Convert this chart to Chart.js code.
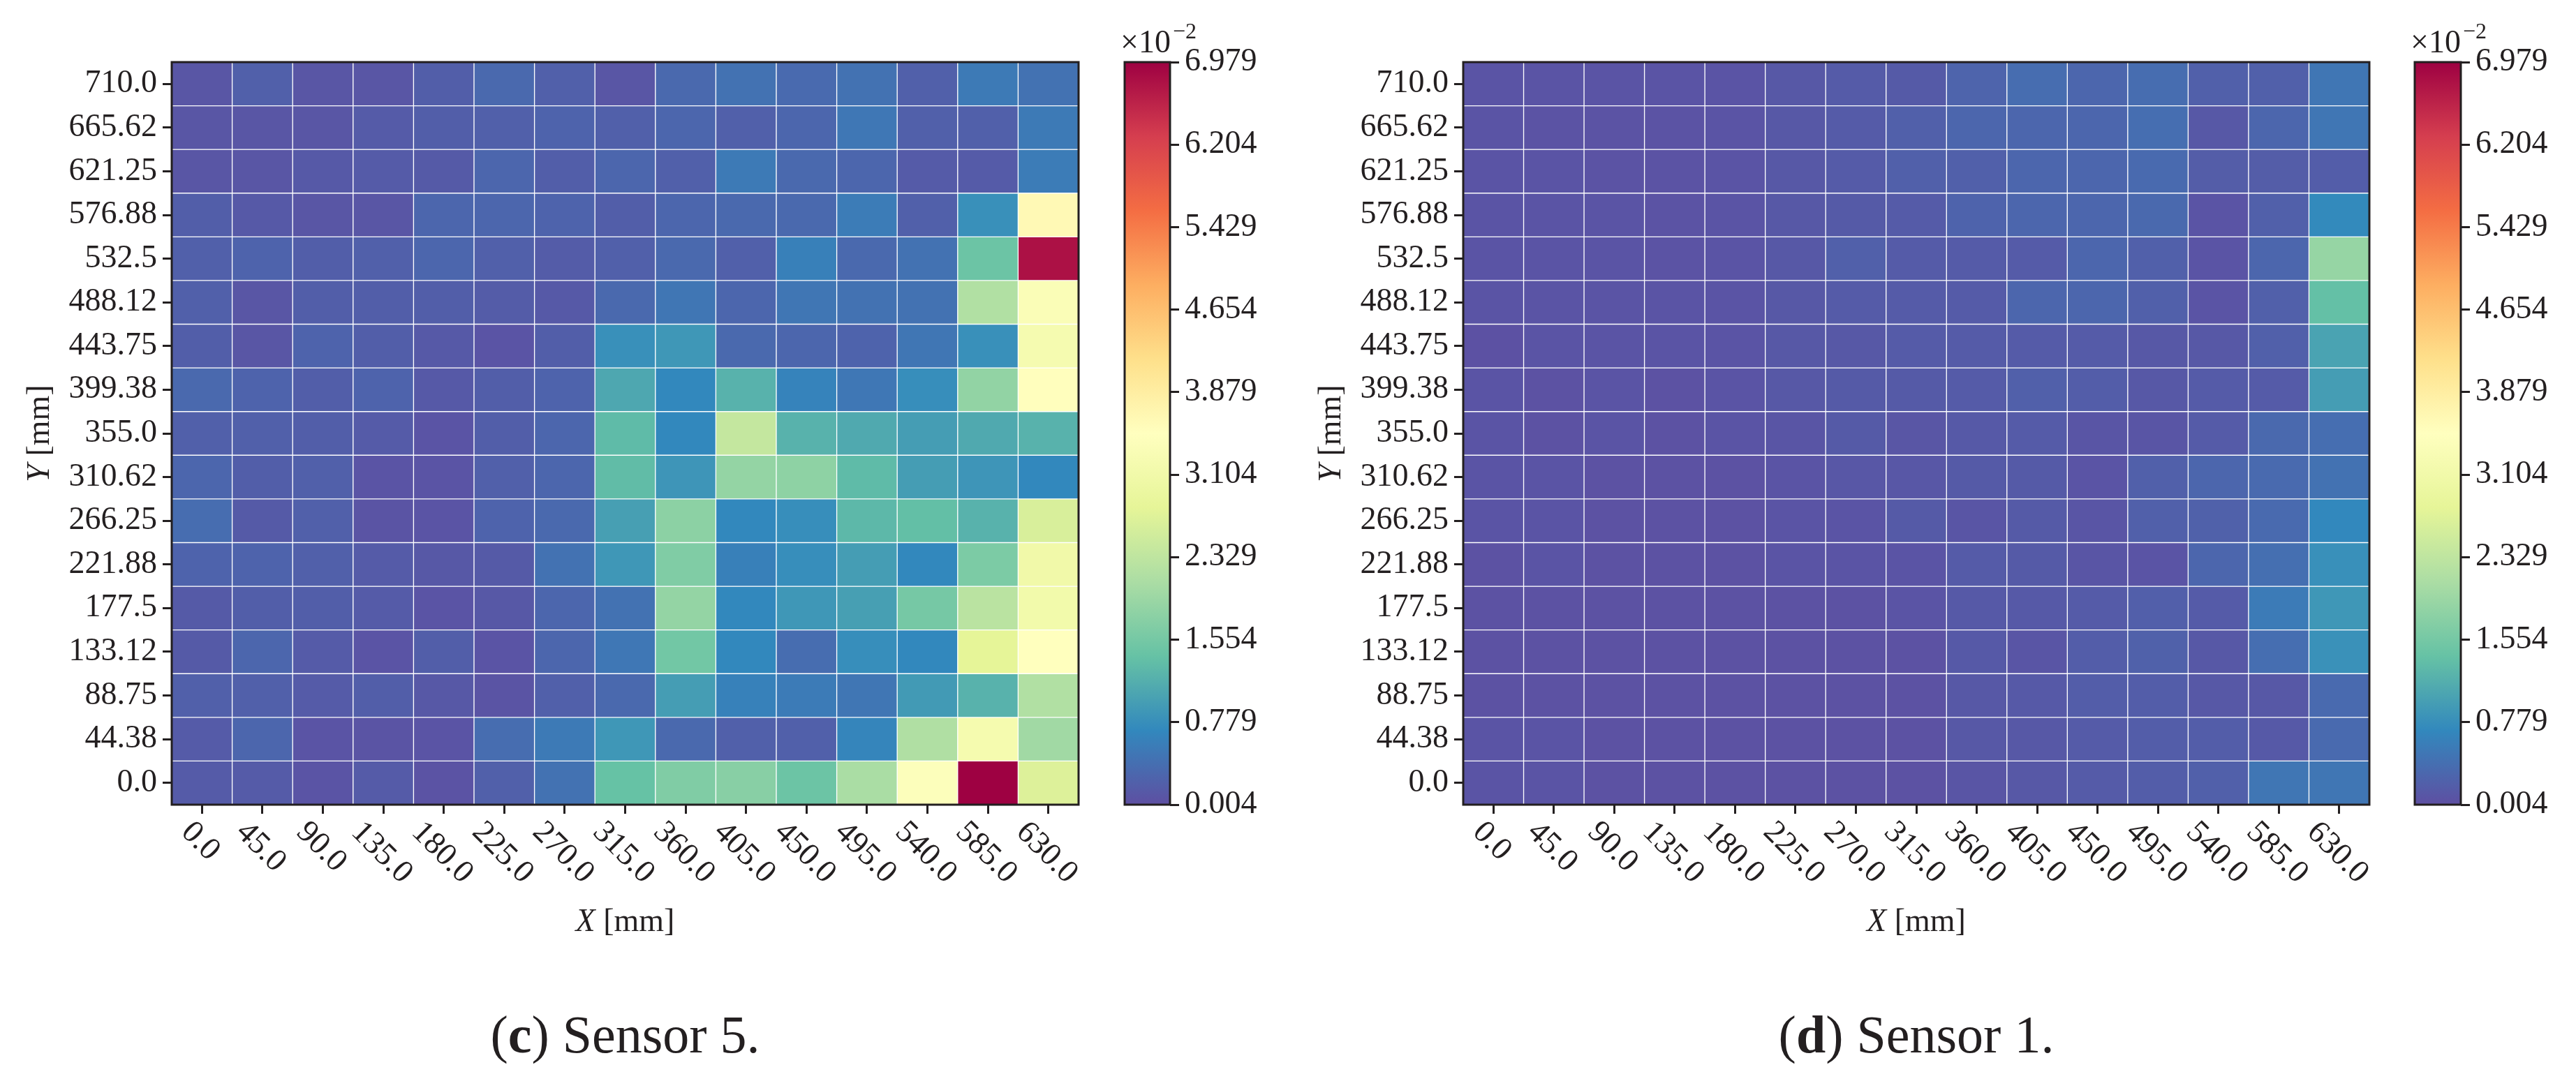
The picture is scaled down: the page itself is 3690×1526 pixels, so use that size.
<!DOCTYPE html>
<html>
<head>
<meta charset="utf-8">
<script src="https://cdn.jsdelivr.net/npm/chart.js@4.4.1/dist/chart.umd.min.js"></script>
<style>
  html, body { margin: 0; padding: 0; background: #ffffff; }
  body { width: 3690px; height: 1526px; position: relative; overflow: hidden; }
  canvas { position: absolute; top: 0; }
</style>
</head>
<body>
<canvas id="heat-c" width="1590" height="1526" style="left:0px"></canvas>
<canvas id="cbar-c" width="300" height="1526" style="left:1580px"></canvas>
<canvas id="heat-d" width="1590" height="1526" style="left:1850px"></canvas>
<canvas id="cbar-d" width="260" height="1526" style="left:3430px"></canvas>
<script>
// ──────────────────────────────────────────────────
// Sensor heatmaps (c) Sensor 5, (d) Sensor 1
// ──────────────────────────────────────────────────

// ─── Data ────────────────────────────────────────
const xLabels = ['0.0', '45.0', '90.0', '135.0', '180.0', '225.0', '270.0', '315.0',
  '360.0', '405.0', '450.0', '495.0', '540.0', '585.0', '630.0'];
const yLabels = ['710.0', '665.62', '621.25', '576.88', '532.5', '488.12', '443.75', '399.38',
  '355.0', '310.62', '266.25', '221.88', '177.5', '133.12', '88.75', '44.38', '0.0'];
const cbTicks = [0.004, 0.779, 1.554, 2.329, 3.104, 3.879, 4.654, 5.429, 6.204, 6.979];
const VMIN = 0.004;
const VMAX = 6.979;

// values in units of 10^-2, rows from Y = 710.0 (top) down to Y = 0.0
const sensor5 = [
  [0.09, 0.21, 0.09, 0.09, 0.19, 0.32, 0.21, 0.09, 0.32, 0.43, 0.33, 0.43, 0.21, 0.53, 0.43],
  [0.09, 0.09, 0.09, 0.15, 0.19, 0.21, 0.25, 0.21, 0.29, 0.21, 0.29, 0.49, 0.21, 0.21, 0.53],
  [0.09, 0.09, 0.13, 0.15, 0.14, 0.29, 0.19, 0.29, 0.21, 0.53, 0.32, 0.29, 0.15, 0.15, 0.55],
  [0.19, 0.13, 0.09, 0.09, 0.29, 0.29, 0.25, 0.19, 0.29, 0.32, 0.32, 0.55, 0.21, 0.80, 3.62],
  [0.21, 0.25, 0.19, 0.21, 0.29, 0.21, 0.16, 0.21, 0.32, 0.21, 0.60, 0.32, 0.43, 1.46, 6.80],
  [0.21, 0.09, 0.19, 0.19, 0.19, 0.16, 0.13, 0.32, 0.48, 0.29, 0.48, 0.43, 0.43, 2.17, 3.35],
  [0.19, 0.09, 0.25, 0.19, 0.13, 0.07, 0.19, 0.80, 0.88, 0.32, 0.29, 0.25, 0.48, 0.80, 3.22],
  [0.32, 0.25, 0.19, 0.25, 0.13, 0.19, 0.25, 1.08, 0.70, 1.21, 0.64, 0.49, 0.77, 1.84, 3.52],
  [0.21, 0.21, 0.19, 0.15, 0.07, 0.19, 0.29, 1.31, 0.70, 2.39, 1.21, 1.10, 0.95, 1.10, 1.21],
  [0.29, 0.19, 0.21, 0.07, 0.07, 0.21, 0.29, 1.33, 0.86, 1.86, 1.80, 1.31, 0.95, 0.86, 0.70],
  [0.37, 0.14, 0.21, 0.06, 0.07, 0.25, 0.32, 0.98, 1.78, 0.70, 0.77, 1.28, 1.36, 1.21, 2.63],
  [0.25, 0.25, 0.21, 0.15, 0.12, 0.14, 0.43, 0.88, 1.66, 0.60, 0.77, 0.95, 0.70, 1.62, 3.10],
  [0.14, 0.19, 0.19, 0.15, 0.07, 0.12, 0.29, 0.43, 1.86, 0.70, 0.88, 0.98, 1.56, 2.27, 3.13],
  [0.14, 0.29, 0.15, 0.07, 0.19, 0.07, 0.29, 0.49, 1.52, 0.70, 0.37, 0.77, 0.70, 2.80, 3.48],
  [0.21, 0.21, 0.15, 0.19, 0.12, 0.06, 0.21, 0.32, 0.95, 0.62, 0.54, 0.48, 0.92, 1.21, 2.17],
  [0.15, 0.29, 0.07, 0.06, 0.07, 0.37, 0.53, 0.88, 0.32, 0.21, 0.21, 0.66, 2.15, 3.20, 2.00],
  [0.15, 0.15, 0.07, 0.15, 0.05, 0.21, 0.43, 1.40, 1.66, 1.74, 1.46, 2.09, 3.42, 6.979, 2.69],
];

const sensor1 = [
  [0.07, 0.07, 0.07, 0.07, 0.07, 0.11, 0.15, 0.14, 0.26, 0.37, 0.29, 0.37, 0.21, 0.21, 0.48],
  [0.07, 0.05, 0.05, 0.05, 0.07, 0.11, 0.15, 0.21, 0.29, 0.29, 0.29, 0.38, 0.12, 0.29, 0.48],
  [0.07, 0.07, 0.05, 0.05, 0.07, 0.11, 0.15, 0.21, 0.21, 0.29, 0.29, 0.33, 0.17, 0.17, 0.18],
  [0.07, 0.07, 0.07, 0.05, 0.07, 0.11, 0.14, 0.15, 0.25, 0.29, 0.29, 0.32, 0.07, 0.21, 0.72],
  [0.07, 0.07, 0.07, 0.05, 0.07, 0.11, 0.21, 0.15, 0.15, 0.15, 0.29, 0.21, 0.07, 0.29, 1.88],
  [0.07, 0.07, 0.07, 0.07, 0.07, 0.11, 0.15, 0.15, 0.15, 0.29, 0.29, 0.21, 0.07, 0.21, 1.37],
  [0.03, 0.07, 0.07, 0.07, 0.07, 0.11, 0.11, 0.15, 0.15, 0.15, 0.15, 0.12, 0.12, 0.21, 1.03],
  [0.07, 0.04, 0.07, 0.04, 0.07, 0.11, 0.14, 0.14, 0.15, 0.21, 0.18, 0.12, 0.15, 0.15, 0.96],
  [0.07, 0.04, 0.07, 0.04, 0.07, 0.08, 0.14, 0.09, 0.13, 0.15, 0.08, 0.08, 0.15, 0.32, 0.38],
  [0.07, 0.07, 0.04, 0.04, 0.04, 0.07, 0.10, 0.10, 0.14, 0.14, 0.07, 0.21, 0.29, 0.33, 0.43],
  [0.07, 0.07, 0.04, 0.04, 0.04, 0.07, 0.07, 0.14, 0.08, 0.14, 0.08, 0.21, 0.22, 0.33, 0.70],
  [0.04, 0.07, 0.04, 0.04, 0.04, 0.07, 0.07, 0.07, 0.15, 0.14, 0.08, 0.07, 0.29, 0.40, 0.80],
  [0.04, 0.04, 0.04, 0.04, 0.04, 0.04, 0.04, 0.07, 0.13, 0.13, 0.15, 0.20, 0.15, 0.54, 0.88],
  [0.04, 0.04, 0.04, 0.04, 0.04, 0.04, 0.04, 0.04, 0.13, 0.08, 0.18, 0.22, 0.12, 0.38, 0.81],
  [0.04, 0.04, 0.04, 0.04, 0.04, 0.04, 0.04, 0.04, 0.12, 0.13, 0.18, 0.18, 0.12, 0.11, 0.33],
  [0.07, 0.07, 0.04, 0.04, 0.04, 0.04, 0.04, 0.04, 0.12, 0.12, 0.15, 0.18, 0.18, 0.13, 0.33],
  [0.07, 0.07, 0.04, 0.04, 0.04, 0.04, 0.04, 0.04, 0.08, 0.12, 0.15, 0.18, 0.21, 0.48, 0.48],
];

// ─── Style ───────────────────────────────────────
const INK = '#231f20';
const FONT = '"Liberation Serif", "DejaVu Serif", serif';
const FS = 46;
const TICK_LEN = 13;
// matplotlib Spectral_r
const SPECTRAL_R = ['#5e4fa2', '#3288bd', '#66c2a5', '#abdda4', '#e6f598', '#ffffbf',
  '#fee08b', '#fdae61', '#f46d43', '#d53e4f', '#9e0142'];

function hexToRgb(h) {
  return [parseInt(h.slice(1, 3), 16), parseInt(h.slice(3, 5), 16), parseInt(h.slice(5, 7), 16)];
}

function colorFor(v) {
  let t = (v - VMIN) / (VMAX - VMIN);
  t = Math.min(Math.max(t, 0), 1);
  const s = t * (SPECTRAL_R.length - 1);
  const i = Math.min(Math.floor(s), SPECTRAL_R.length - 2);
  const f = s - i;
  const a = hexToRgb(SPECTRAL_R[i]);
  const b = hexToRgb(SPECTRAL_R[i + 1]);
  const c = a.map((ch, k) => Math.round(ch + (b[k] - ch) * f));
  return `rgb(${c[0]},${c[1]},${c[2]})`;
}

function drawRuns(ctx, runs, cx, y) {
  let total = 0;
  runs.forEach(r => { ctx.font = r.font; r.w = ctx.measureText(r.text).width; total += r.w; });
  let x = cx - total / 2;
  ctx.textAlign = 'left';
  ctx.textBaseline = 'alphabetic';
  runs.forEach(r => { ctx.font = r.font; ctx.fillText(r.text, x, y); x += r.w; });
}

const yAsc = yLabels.slice().reverse();
const yStep = (parseFloat(yLabels[0]) - parseFloat(yLabels[yLabels.length - 1])) / (yLabels.length - 1);

// ─── Heatmap (floating bars) ─────────────────────
function renderHeatmap(canvasId, grid, tag, caption, padRight) {
  const datasets = yLabels.map((lab, r) => {
    const yc = parseFloat(lab);
    return {
      data: xLabels.map(() => [yc - yStep / 2, yc + yStep / 2]),
      backgroundColor: grid[r].map(colorFor),
      borderColor: '#ffffff',
      borderWidth: 1,
      borderSkipped: false,
      barPercentage: 1,
      categoryPercentage: 1,
      grouped: false,
    };
  });

  const decor = {
    id: 'heatDecor',
    afterDatasetsDraw(chart) {
      const { ctx, chartArea: a } = chart;
      ctx.save();
      ctx.strokeStyle = INK;
      ctx.lineWidth = 3;
      ctx.strokeRect(a.left, a.top, a.right - a.left, a.bottom - a.top);
      ctx.restore();
    },
    afterDraw(chart) {
      const { ctx, chartArea: a } = chart;
      const xs = chart.scales.x;
      ctx.save();
      ctx.fillStyle = INK;

      // rotated x tick labels (reading down to the right)
      ctx.font = `${FS}px ${FONT}`;
      const h = FS * 0.68;
      xLabels.forEach((lab, i) => {
        const px = xs.getPixelForValue(i);
        const w = ctx.measureText(lab).width;
        const d = (w + h) / Math.SQRT2;
        const top = a.bottom + TICK_LEN + 6;
        ctx.save();
        ctx.translate(px, top + d / 2);
        ctx.rotate(Math.PI / 4);
        ctx.textAlign = 'center';
        ctx.textBaseline = 'alphabetic';
        ctx.fillText(lab, 0, h / 2);
        ctx.restore();
      });

      const cx = (a.left + a.right) / 2;
      drawRuns(ctx, [
        { font: `italic ${FS}px ${FONT}`, text: 'X' },
        { font: `${FS}px ${FONT}`, text: ' [mm]' },
      ], cx, a.bottom + 181);

      ctx.save();
      ctx.translate(a.left - 176, (a.top + a.bottom) / 2);
      ctx.rotate(-Math.PI / 2);
      drawRuns(ctx, [
        { font: `italic ${FS}px ${FONT}`, text: 'Y' },
        { font: `${FS}px ${FONT}`, text: ' [mm]' },
      ], 0, 0);
      ctx.restore();

      drawRuns(ctx, [
        { font: `76px ${FONT}`, text: '(' },
        { font: `bold 76px ${FONT}`, text: tag },
        { font: `76px ${FONT}`, text: ') ' + caption },
      ], cx, a.bottom + 355);
      ctx.restore();
    },
  };

  return new Chart(document.getElementById(canvasId), {
    type: 'bar',
    data: { labels: xLabels, datasets },
    plugins: [decor],
    options: {
      responsive: false,
      animation: false,
      devicePixelRatio: 1,
      events: [],
      layout: { padding: { top: 89, right: padRight, left: 0, bottom: 0 } },
      plugins: { legend: { display: false }, tooltip: { enabled: false } },
      scales: {
        x: {
          type: 'category',
          offset: true,
          grid: { offset: false, drawOnChartArea: false, tickLength: TICK_LEN, color: INK, lineWidth: 3 },
          border: { display: false },
          ticks: { display: false },
          afterFit: s => { s.height = 373; },
        },
        y: {
          type: 'linear',
          min: parseFloat(yAsc[0]) - yStep / 2,
          max: parseFloat(yAsc[yAsc.length - 1]) + yStep / 2,
          afterBuildTicks: s => { s.ticks = yAsc.map(l => ({ value: parseFloat(l) })); },
          grid: { drawOnChartArea: false, tickLength: TICK_LEN, color: INK, lineWidth: 3 },
          border: { display: false },
          ticks: {
            autoSkip: false,
            padding: 8,
            color: INK,
            font: { family: FONT, size: FS },
            callback: (v, i) => yAsc[i],
          },
          afterFit: s => { s.width = 246; },
        },
      },
    },
  });
}

// ─── Colorbar ────────────────────────────────────
function renderColorbar(canvasId, padLeft, axisWidth) {
  const decor = {
    id: 'cbarDecor',
    afterDatasetsDraw(chart) {
      const { ctx, chartArea: a } = chart;
      ctx.save();
      ctx.strokeStyle = INK;
      ctx.lineWidth = 3;
      ctx.strokeRect(a.left, a.top, a.right - a.left, a.bottom - a.top);
      ctx.restore();
    },
    afterDraw(chart) {
      const { ctx, chartArea: a } = chart;
      ctx.save();
      ctx.fillStyle = INK;
      ctx.textAlign = 'left';
      ctx.textBaseline = 'alphabetic';
      ctx.font = `${FS}px ${FONT}`;
      const base = a.top - 14;
      const x0 = a.left - 6;
      ctx.fillText('\u00d710', x0, base);
      const w = ctx.measureText('\u00d710').width;
      ctx.font = `32px ${FONT}`;
      ctx.fillText('\u22122', x0 + w + 3, base - 20);
      ctx.restore();
    },
  };

  return new Chart(document.getElementById(canvasId), {
    type: 'bar',
    data: {
      labels: ['cb'],
      datasets: [{
        data: [[VMIN, VMAX]],
        backgroundColor(context) {
          const { ctx, chartArea } = context.chart;
          if (!chartArea) return SPECTRAL_R[0];
          const g = ctx.createLinearGradient(0, chartArea.bottom, 0, chartArea.top);
          SPECTRAL_R.forEach((c, k) => g.addColorStop(k / (SPECTRAL_R.length - 1), c));
          return g;
        },
        borderWidth: 0,
        barPercentage: 1,
        categoryPercentage: 1,
      }],
    },
    plugins: [decor],
    options: {
      responsive: false,
      animation: false,
      devicePixelRatio: 1,
      events: [],
      layout: { padding: { top: 89, right: 0, left: padLeft, bottom: 373 } },
      plugins: { legend: { display: false }, tooltip: { enabled: false } },
      scales: {
        x: { display: false },
        y: {
          position: 'right',
          min: VMIN,
          max: VMAX,
          afterBuildTicks: s => { s.ticks = cbTicks.map(v => ({ value: v })); },
          grid: { drawOnChartArea: false, tickLength: TICK_LEN, color: INK, lineWidth: 3 },
          border: { display: false },
          ticks: {
            autoSkip: false,
            padding: 8,
            color: INK,
            font: { family: FONT, size: FS },
            callback: v => v.toFixed(3),
          },
          afterFit: s => { s.width = axisWidth; },
        },
      },
    },
  });
}

renderHeatmap('heat-c', sensor5, 'c', 'Sensor 5.', 45);
renderColorbar('cbar-c', 31, 204);
renderHeatmap('heat-d', sensor1, 'd', 'Sensor 1.', 46);
renderColorbar('cbar-d', 29, 165);
</script>
</body>
</html>
